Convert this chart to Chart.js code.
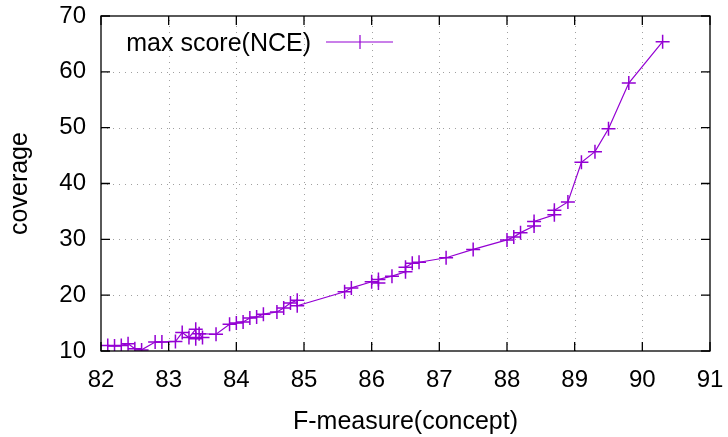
<!DOCTYPE html>
<html>
<head>
<meta charset="utf-8">
<script src="https://cdn.jsdelivr.net/npm/chart.js@4/dist/chart.umd.min.js"></script>
<style>
  html, body { margin: 0; padding: 0; background: #fff; }
  #wrap { width: 728px; height: 437px; }
</style>
</head>
<body>
<div id="wrap"><canvas id="cov"></canvas></div>
<script>
// values
const fMeasure = [82.1, 82.2, 82.3, 82.4, 82.5, 82.6, 82.8, 82.9, 83.1, 83.2, 83.3, 83.4, 83.4, 83.5, 83.45,
  83.7, 83.9, 84.0, 84.1, 84.2, 84.3, 84.4, 84.6, 84.7, 84.8, 84.9, 84.9, 85.6, 85.7, 86.0,
  86.1, 86.1, 86.3, 86.5, 86.5, 86.6, 86.7, 87.1, 87.5, 88.0, 88.1, 88.2, 88.4, 88.4, 88.7,
  88.7, 88.9, 89.1, 89.3, 89.5, 89.8, 90.3];
const coverage = [11.0, 10.9, 11.0, 11.3, 10.4, 10.2, 11.6, 11.6, 11.7, 13.3, 12.4, 13.9, 12.2, 12.4, 13.1,
  13.0, 14.8, 15.0, 15.2, 15.9, 16.1, 16.6, 17.0, 17.7, 18.6, 19.1, 18.1, 20.6, 21.3, 22.4,
  22.2, 22.8, 23.4, 24.2, 25.0, 25.7, 25.9, 26.7, 28.2, 29.9, 30.4, 31.2, 32.4, 33.2, 34.4,
  35.2, 36.7, 43.8, 45.7, 49.8, 58.0, 65.4];
const xTicks = [82, 83, 84, 85, 86, 87, 88, 89, 90, 91];
const yTicks = [10, 20, 30, 40, 50, 60, 70];
const seriesName = "max score(NCE)";

const purple = "#9400d3";
const fontFam = "'Liberation Sans', Arial, sans-serif";

// gnuplot-style dotted grid, frame, inward ticks on all four sides, and the key inside the plot
const frame = {
  id: "frame",
  beforeDatasetsDraw(chart) {
    const { ctx, chartArea: a, scales } = chart;
    ctx.save();
    ctx.strokeStyle = "#a0a0a0";
    ctx.lineWidth = 1;
    ctx.setLineDash([1, 5]);
    ctx.beginPath();
    xTicks.slice(1, -1).forEach(v => {
      const px = Math.round(scales.x.getPixelForValue(v)) + 0.5;
      ctx.moveTo(px, a.bottom); ctx.lineTo(px, a.top);
    });
    yTicks.slice(1, -1).forEach(v => {
      const py = Math.round(scales.y.getPixelForValue(v)) + 0.5;
      ctx.moveTo(a.left, py); ctx.lineTo(a.right, py);
    });
    ctx.stroke();
    ctx.restore();
  },
  afterDraw(chart) {
    const { ctx, chartArea: a, scales } = chart;
    ctx.save();
    ctx.strokeStyle = "#000";
    ctx.lineWidth = 1.3;
    ctx.strokeRect(a.left, a.top, a.right - a.left, a.bottom - a.top);
    ctx.beginPath();
    xTicks.forEach(v => {
      const px = scales.x.getPixelForValue(v);
      ctx.moveTo(px, a.bottom); ctx.lineTo(px, a.bottom - 9);
      ctx.moveTo(px, a.top); ctx.lineTo(px, a.top + 9);
    });
    yTicks.forEach(v => {
      const py = scales.y.getPixelForValue(v);
      ctx.moveTo(a.left, py); ctx.lineTo(a.left + 9, py);
      ctx.moveTo(a.right, py); ctx.lineTo(a.right - 9, py);
    });
    ctx.stroke();

    // key
    ctx.font = "25px " + fontFam;
    ctx.fillStyle = "#000";
    ctx.textAlign = "right";
    ctx.textBaseline = "middle";
    ctx.fillText(seriesName, 311, 44);
    ctx.strokeStyle = purple;
    ctx.lineWidth = 1.2;
    ctx.beginPath();
    ctx.moveTo(326, 42); ctx.lineTo(393, 42);
    ctx.moveTo(360, 35); ctx.lineTo(360, 49);
    ctx.stroke();
    ctx.restore();
  }
};

// drop the label overhang so the plot frame lands where the layout padding says
function noOverhang(s) {
  s.paddingTop = 0; s.paddingBottom = 0; s.paddingLeft = 0; s.paddingRight = 0;
}

new Chart(document.getElementById("cov"), {
  type: "scatter",
  data: {
    datasets: [{
      label: seriesName,
      data: fMeasure.map((x, i) => ({ x: x, y: coverage[i] })),
      showLine: true,
      borderColor: purple,
      backgroundColor: purple,
      borderWidth: 1.2,
      pointStyle: "cross",
      pointRadius: 7,
      pointBorderWidth: 1.5,
      pointHoverRadius: 7
    }]
  },
  options: {
    responsive: true,
    maintainAspectRatio: false,
    animation: false,
    events: [],
    layout: { padding: { top: 16, right: 18, left: 0, bottom: 0 } },
    plugins: { legend: { display: false }, tooltip: { enabled: false } },
    scales: {
      x: {
        type: "linear",
        min: 82, max: 91,
        afterBuildTicks: s => { s.ticks = xTicks.map(v => ({ value: v })); },
        afterFit: s => { s.height = 86; noOverhang(s); },
        border: { display: false },
        grid: { display: false, drawTicks: false },
        ticks: { color: "#000", font: { family: fontFam, size: 24 }, padding: 15, maxRotation: 0 },
        title: { display: true, text: "F-measure(concept)", color: "#000",
                 font: { family: fontFam, size: 25 }, padding: { top: 8, bottom: 0 } }
      },
      y: {
        type: "linear",
        min: 10, max: 70,
        afterBuildTicks: s => { s.ticks = yTicks.map(v => ({ value: v })); },
        afterFit: s => { s.width = 101; noOverhang(s); },
        border: { display: false },
        grid: { display: false, drawTicks: false },
        ticks: { color: "#000", font: { family: fontFam, size: 24 }, padding: 15 },
        title: { display: true, text: "coverage", color: "#000",
                 font: { family: fontFam, size: 25 }, padding: { top: 5, bottom: 0 } }
      }
    }
  },
  plugins: [frame]
});
</script>
</body>
</html>
